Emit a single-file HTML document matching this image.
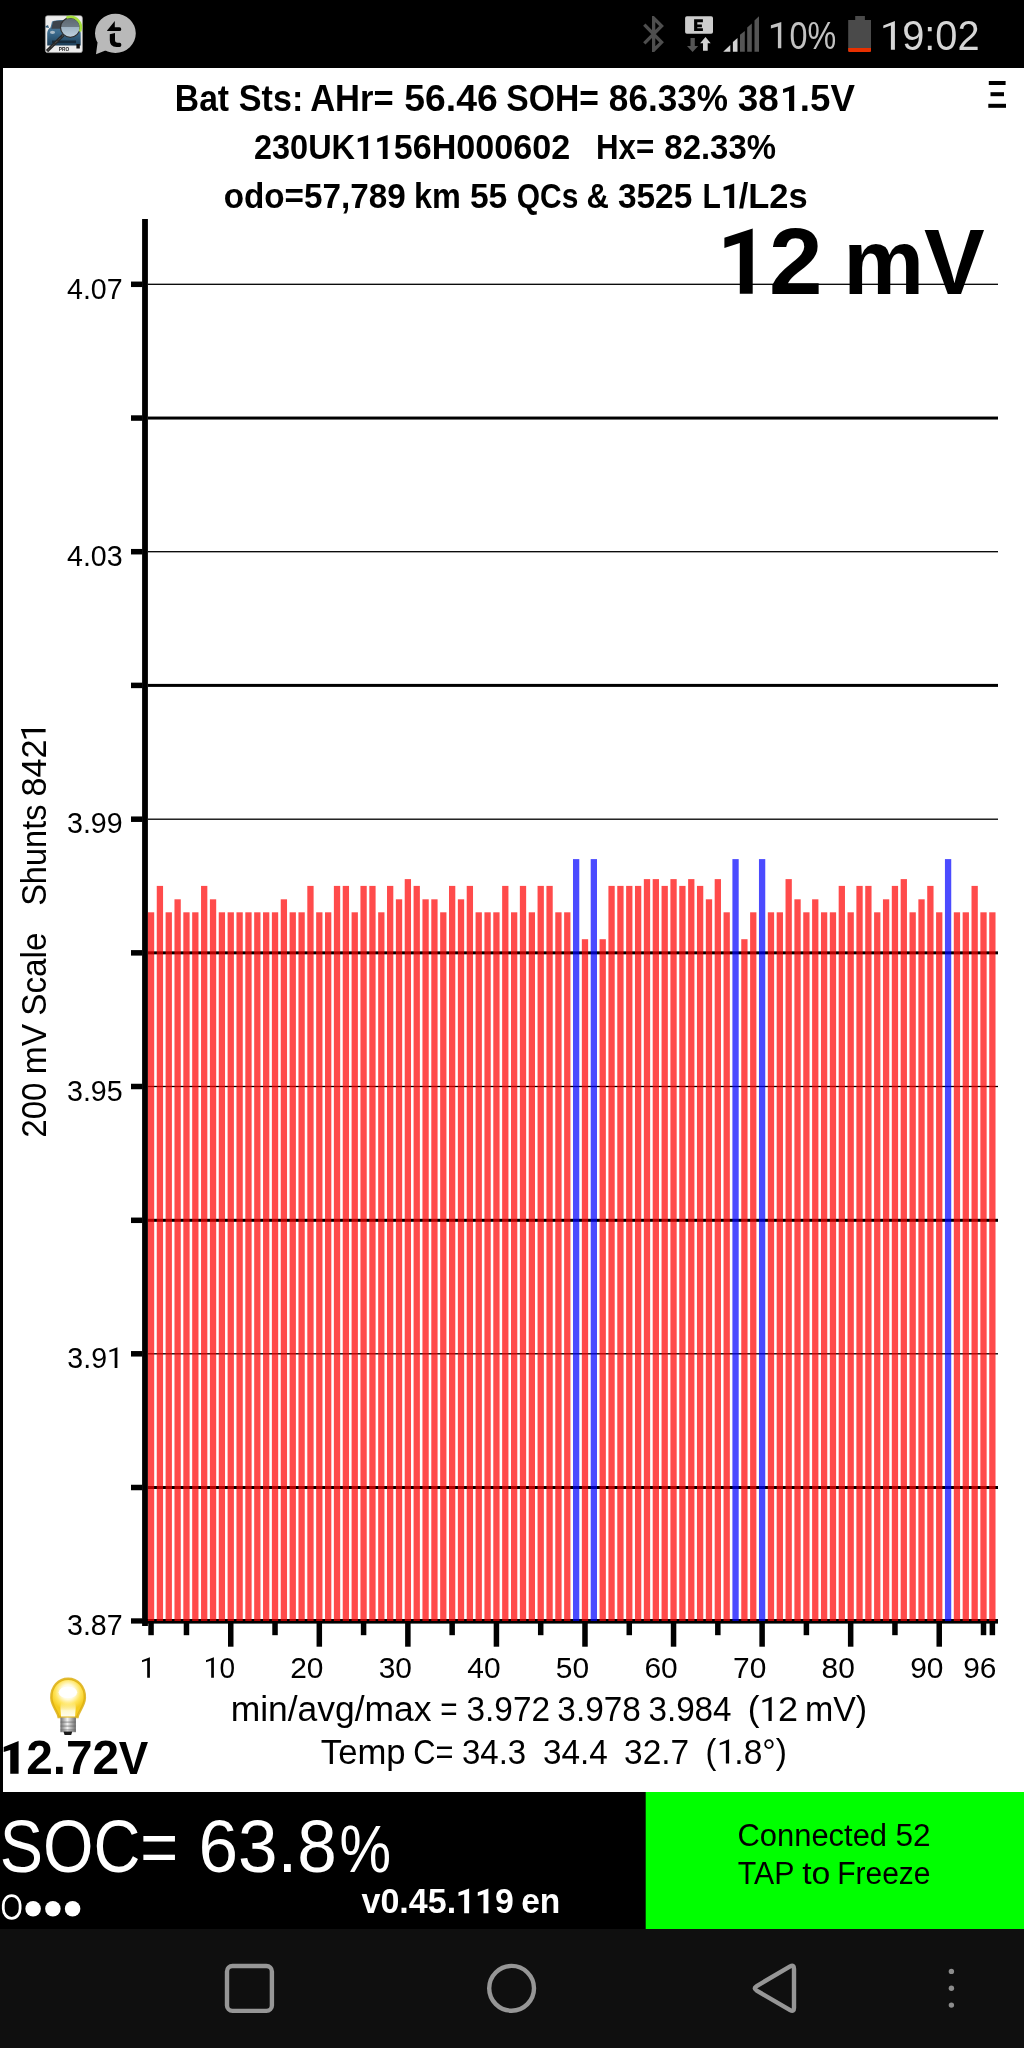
<!DOCTYPE html>
<html><head><meta charset="utf-8"><style>
html,body{margin:0;padding:0;background:#fff;}
body{width:1024px;height:2048px;overflow:hidden;}
svg{display:block;font-family:"Liberation Sans", sans-serif;will-change:transform;}
</style></head><body>
<svg width="1024" height="2048" viewBox="0 0 1024 2048">
<rect x="0" y="0" width="1024" height="68" fill="#000"/>
<rect x="0" y="68" width="3" height="1724" fill="#000"/>
<rect x="3" y="68" width="1021" height="1724" fill="#fff"/>
<rect x="0" y="1792" width="646" height="137" fill="#000"/>
<rect x="645.7" y="1792" width="378.3" height="137" fill="#00ff00"/>
<rect x="0" y="1929" width="1024" height="119" fill="#0f0f0f"/>
<rect x="148" y="283.65" width="850" height="1.3" fill="#000"/>
<rect x="131" y="281.55" width="11.5" height="5.5" fill="#000"/>
<rect x="148" y="416.55" width="850" height="3" fill="#000"/>
<rect x="131" y="415.30" width="11.5" height="5.5" fill="#000"/>
<rect x="148" y="551.05" width="850" height="1.3" fill="#000"/>
<rect x="131" y="548.95" width="11.5" height="5.5" fill="#000"/>
<rect x="148" y="683.90" width="850" height="3" fill="#000"/>
<rect x="131" y="682.65" width="11.5" height="5.5" fill="#000"/>
<rect x="148" y="818.55" width="850" height="1.3" fill="#000"/>
<rect x="131" y="816.45" width="11.5" height="5.5" fill="#000"/>
<rect x="148" y="951.35" width="850" height="3" fill="#000"/>
<rect x="131" y="950.10" width="11.5" height="5.5" fill="#000"/>
<rect x="148" y="1085.85" width="850" height="1.3" fill="#000"/>
<rect x="131" y="1083.75" width="11.5" height="5.5" fill="#000"/>
<rect x="148" y="1218.80" width="850" height="3" fill="#000"/>
<rect x="131" y="1217.55" width="11.5" height="5.5" fill="#000"/>
<rect x="148" y="1353.15" width="850" height="1.3" fill="#000"/>
<rect x="131" y="1351.05" width="11.5" height="5.5" fill="#000"/>
<rect x="148" y="1486.00" width="850" height="3" fill="#000"/>
<rect x="131" y="1484.75" width="11.5" height="5.5" fill="#000"/>
<rect x="131" y="1618.3" width="11.5" height="5.3" fill="#000"/>
<rect x="142.1" y="219" width="5.8" height="1407" fill="#000"/>
<rect x="142" y="1619" width="856" height="4.6" fill="#000"/>
<rect x="148.30" y="1623" width="5.5" height="12.2" fill="#000"/>
<rect x="183.72" y="1623" width="5.5" height="12.2" fill="#000"/>
<rect x="228.00" y="1623" width="5.5" height="23.7" fill="#000"/>
<rect x="272.28" y="1623" width="5.5" height="12.2" fill="#000"/>
<rect x="316.56" y="1623" width="5.5" height="23.7" fill="#000"/>
<rect x="360.84" y="1623" width="5.5" height="12.2" fill="#000"/>
<rect x="405.12" y="1623" width="5.5" height="23.7" fill="#000"/>
<rect x="449.40" y="1623" width="5.5" height="12.2" fill="#000"/>
<rect x="493.68" y="1623" width="5.5" height="23.7" fill="#000"/>
<rect x="537.96" y="1623" width="5.5" height="12.2" fill="#000"/>
<rect x="582.24" y="1623" width="5.5" height="23.7" fill="#000"/>
<rect x="626.52" y="1623" width="5.5" height="12.2" fill="#000"/>
<rect x="670.80" y="1623" width="5.5" height="23.7" fill="#000"/>
<rect x="715.08" y="1623" width="5.5" height="12.2" fill="#000"/>
<rect x="759.36" y="1623" width="5.5" height="23.7" fill="#000"/>
<rect x="803.64" y="1623" width="5.5" height="12.2" fill="#000"/>
<rect x="847.92" y="1623" width="5.5" height="23.7" fill="#000"/>
<rect x="892.20" y="1623" width="5.5" height="12.2" fill="#000"/>
<rect x="936.48" y="1623" width="5.5" height="23.7" fill="#000"/>
<rect x="980.76" y="1623" width="5.5" height="12.2" fill="#000"/>
<rect x="989.62" y="1623" width="5.5" height="12.2" fill="#000"/>
<rect x="147.90" y="912.3" width="6.3" height="708.7" fill="#ff0000" fill-opacity="0.706"/>
<rect x="156.76" y="885.9" width="6.3" height="735.1" fill="#ff0000" fill-opacity="0.706"/>
<rect x="165.61" y="912.3" width="6.3" height="708.7" fill="#ff0000" fill-opacity="0.706"/>
<rect x="174.47" y="899.3" width="6.3" height="721.7" fill="#ff0000" fill-opacity="0.706"/>
<rect x="183.32" y="912.3" width="6.3" height="708.7" fill="#ff0000" fill-opacity="0.706"/>
<rect x="192.18" y="912.3" width="6.3" height="708.7" fill="#ff0000" fill-opacity="0.706"/>
<rect x="201.04" y="885.9" width="6.3" height="735.1" fill="#ff0000" fill-opacity="0.706"/>
<rect x="209.89" y="899.3" width="6.3" height="721.7" fill="#ff0000" fill-opacity="0.706"/>
<rect x="218.75" y="912.3" width="6.3" height="708.7" fill="#ff0000" fill-opacity="0.706"/>
<rect x="227.60" y="912.3" width="6.3" height="708.7" fill="#ff0000" fill-opacity="0.706"/>
<rect x="236.46" y="912.3" width="6.3" height="708.7" fill="#ff0000" fill-opacity="0.706"/>
<rect x="245.32" y="912.3" width="6.3" height="708.7" fill="#ff0000" fill-opacity="0.706"/>
<rect x="254.17" y="912.3" width="6.3" height="708.7" fill="#ff0000" fill-opacity="0.706"/>
<rect x="263.03" y="912.3" width="6.3" height="708.7" fill="#ff0000" fill-opacity="0.706"/>
<rect x="271.88" y="912.3" width="6.3" height="708.7" fill="#ff0000" fill-opacity="0.706"/>
<rect x="280.74" y="899.3" width="6.3" height="721.7" fill="#ff0000" fill-opacity="0.706"/>
<rect x="289.60" y="912.3" width="6.3" height="708.7" fill="#ff0000" fill-opacity="0.706"/>
<rect x="298.45" y="912.3" width="6.3" height="708.7" fill="#ff0000" fill-opacity="0.706"/>
<rect x="307.31" y="885.9" width="6.3" height="735.1" fill="#ff0000" fill-opacity="0.706"/>
<rect x="316.16" y="912.3" width="6.3" height="708.7" fill="#ff0000" fill-opacity="0.706"/>
<rect x="325.02" y="912.3" width="6.3" height="708.7" fill="#ff0000" fill-opacity="0.706"/>
<rect x="333.88" y="885.9" width="6.3" height="735.1" fill="#ff0000" fill-opacity="0.706"/>
<rect x="342.73" y="885.9" width="6.3" height="735.1" fill="#ff0000" fill-opacity="0.706"/>
<rect x="351.59" y="912.3" width="6.3" height="708.7" fill="#ff0000" fill-opacity="0.706"/>
<rect x="360.44" y="885.9" width="6.3" height="735.1" fill="#ff0000" fill-opacity="0.706"/>
<rect x="369.30" y="885.9" width="6.3" height="735.1" fill="#ff0000" fill-opacity="0.706"/>
<rect x="378.16" y="912.3" width="6.3" height="708.7" fill="#ff0000" fill-opacity="0.706"/>
<rect x="387.01" y="885.9" width="6.3" height="735.1" fill="#ff0000" fill-opacity="0.706"/>
<rect x="395.87" y="899.3" width="6.3" height="721.7" fill="#ff0000" fill-opacity="0.706"/>
<rect x="404.72" y="879.1" width="6.3" height="741.9" fill="#ff0000" fill-opacity="0.706"/>
<rect x="413.58" y="885.9" width="6.3" height="735.1" fill="#ff0000" fill-opacity="0.706"/>
<rect x="422.44" y="899.3" width="6.3" height="721.7" fill="#ff0000" fill-opacity="0.706"/>
<rect x="431.29" y="899.3" width="6.3" height="721.7" fill="#ff0000" fill-opacity="0.706"/>
<rect x="440.15" y="912.3" width="6.3" height="708.7" fill="#ff0000" fill-opacity="0.706"/>
<rect x="449.00" y="885.9" width="6.3" height="735.1" fill="#ff0000" fill-opacity="0.706"/>
<rect x="457.86" y="899.3" width="6.3" height="721.7" fill="#ff0000" fill-opacity="0.706"/>
<rect x="466.72" y="885.9" width="6.3" height="735.1" fill="#ff0000" fill-opacity="0.706"/>
<rect x="475.57" y="912.3" width="6.3" height="708.7" fill="#ff0000" fill-opacity="0.706"/>
<rect x="484.43" y="912.3" width="6.3" height="708.7" fill="#ff0000" fill-opacity="0.706"/>
<rect x="493.28" y="912.3" width="6.3" height="708.7" fill="#ff0000" fill-opacity="0.706"/>
<rect x="502.14" y="885.9" width="6.3" height="735.1" fill="#ff0000" fill-opacity="0.706"/>
<rect x="511.00" y="912.3" width="6.3" height="708.7" fill="#ff0000" fill-opacity="0.706"/>
<rect x="519.85" y="885.9" width="6.3" height="735.1" fill="#ff0000" fill-opacity="0.706"/>
<rect x="528.71" y="912.3" width="6.3" height="708.7" fill="#ff0000" fill-opacity="0.706"/>
<rect x="537.56" y="885.9" width="6.3" height="735.1" fill="#ff0000" fill-opacity="0.706"/>
<rect x="546.42" y="885.9" width="6.3" height="735.1" fill="#ff0000" fill-opacity="0.706"/>
<rect x="555.28" y="912.3" width="6.3" height="708.7" fill="#ff0000" fill-opacity="0.706"/>
<rect x="564.13" y="912.3" width="6.3" height="708.7" fill="#ff0000" fill-opacity="0.706"/>
<rect x="572.99" y="859.1" width="6.3" height="761.9" fill="#0000ff" fill-opacity="0.706"/>
<rect x="581.84" y="939.2" width="6.3" height="681.8" fill="#ff0000" fill-opacity="0.706"/>
<rect x="590.70" y="859.1" width="6.3" height="761.9" fill="#0000ff" fill-opacity="0.706"/>
<rect x="599.56" y="939.2" width="6.3" height="681.8" fill="#ff0000" fill-opacity="0.706"/>
<rect x="608.41" y="885.9" width="6.3" height="735.1" fill="#ff0000" fill-opacity="0.706"/>
<rect x="617.27" y="885.9" width="6.3" height="735.1" fill="#ff0000" fill-opacity="0.706"/>
<rect x="626.12" y="885.9" width="6.3" height="735.1" fill="#ff0000" fill-opacity="0.706"/>
<rect x="634.98" y="885.9" width="6.3" height="735.1" fill="#ff0000" fill-opacity="0.706"/>
<rect x="643.84" y="879.1" width="6.3" height="741.9" fill="#ff0000" fill-opacity="0.706"/>
<rect x="652.69" y="879.1" width="6.3" height="741.9" fill="#ff0000" fill-opacity="0.706"/>
<rect x="661.55" y="885.9" width="6.3" height="735.1" fill="#ff0000" fill-opacity="0.706"/>
<rect x="670.40" y="879.1" width="6.3" height="741.9" fill="#ff0000" fill-opacity="0.706"/>
<rect x="679.26" y="885.9" width="6.3" height="735.1" fill="#ff0000" fill-opacity="0.706"/>
<rect x="688.12" y="879.1" width="6.3" height="741.9" fill="#ff0000" fill-opacity="0.706"/>
<rect x="696.97" y="885.9" width="6.3" height="735.1" fill="#ff0000" fill-opacity="0.706"/>
<rect x="705.83" y="899.3" width="6.3" height="721.7" fill="#ff0000" fill-opacity="0.706"/>
<rect x="714.68" y="879.1" width="6.3" height="741.9" fill="#ff0000" fill-opacity="0.706"/>
<rect x="723.54" y="912.3" width="6.3" height="708.7" fill="#ff0000" fill-opacity="0.706"/>
<rect x="732.40" y="859.1" width="6.3" height="761.9" fill="#0000ff" fill-opacity="0.706"/>
<rect x="741.25" y="939.2" width="6.3" height="681.8" fill="#ff0000" fill-opacity="0.706"/>
<rect x="750.11" y="912.3" width="6.3" height="708.7" fill="#ff0000" fill-opacity="0.706"/>
<rect x="758.96" y="859.1" width="6.3" height="761.9" fill="#0000ff" fill-opacity="0.706"/>
<rect x="767.82" y="912.3" width="6.3" height="708.7" fill="#ff0000" fill-opacity="0.706"/>
<rect x="776.68" y="912.3" width="6.3" height="708.7" fill="#ff0000" fill-opacity="0.706"/>
<rect x="785.53" y="879.1" width="6.3" height="741.9" fill="#ff0000" fill-opacity="0.706"/>
<rect x="794.39" y="899.3" width="6.3" height="721.7" fill="#ff0000" fill-opacity="0.706"/>
<rect x="803.24" y="912.3" width="6.3" height="708.7" fill="#ff0000" fill-opacity="0.706"/>
<rect x="812.10" y="899.3" width="6.3" height="721.7" fill="#ff0000" fill-opacity="0.706"/>
<rect x="820.96" y="912.3" width="6.3" height="708.7" fill="#ff0000" fill-opacity="0.706"/>
<rect x="829.81" y="912.3" width="6.3" height="708.7" fill="#ff0000" fill-opacity="0.706"/>
<rect x="838.67" y="885.9" width="6.3" height="735.1" fill="#ff0000" fill-opacity="0.706"/>
<rect x="847.52" y="912.3" width="6.3" height="708.7" fill="#ff0000" fill-opacity="0.706"/>
<rect x="856.38" y="885.9" width="6.3" height="735.1" fill="#ff0000" fill-opacity="0.706"/>
<rect x="865.24" y="885.9" width="6.3" height="735.1" fill="#ff0000" fill-opacity="0.706"/>
<rect x="874.09" y="912.3" width="6.3" height="708.7" fill="#ff0000" fill-opacity="0.706"/>
<rect x="882.95" y="899.3" width="6.3" height="721.7" fill="#ff0000" fill-opacity="0.706"/>
<rect x="891.80" y="885.9" width="6.3" height="735.1" fill="#ff0000" fill-opacity="0.706"/>
<rect x="900.66" y="879.1" width="6.3" height="741.9" fill="#ff0000" fill-opacity="0.706"/>
<rect x="909.52" y="912.3" width="6.3" height="708.7" fill="#ff0000" fill-opacity="0.706"/>
<rect x="918.37" y="899.3" width="6.3" height="721.7" fill="#ff0000" fill-opacity="0.706"/>
<rect x="927.23" y="885.9" width="6.3" height="735.1" fill="#ff0000" fill-opacity="0.706"/>
<rect x="936.08" y="912.3" width="6.3" height="708.7" fill="#ff0000" fill-opacity="0.706"/>
<rect x="944.94" y="859.1" width="6.3" height="761.9" fill="#0000ff" fill-opacity="0.706"/>
<rect x="953.80" y="912.3" width="6.3" height="708.7" fill="#ff0000" fill-opacity="0.706"/>
<rect x="962.65" y="912.3" width="6.3" height="708.7" fill="#ff0000" fill-opacity="0.706"/>
<rect x="971.51" y="885.9" width="6.3" height="735.1" fill="#ff0000" fill-opacity="0.706"/>
<rect x="980.36" y="912.3" width="6.3" height="708.7" fill="#ff0000" fill-opacity="0.706"/>
<rect x="989.22" y="912.3" width="6.3" height="708.7" fill="#ff0000" fill-opacity="0.706"/>
<text x="67.03" y="298.8" font-size="30.2" fill="#000" textLength="55.64" lengthAdjust="spacingAndGlyphs" xml:space="preserve">4.07</text>
<text x="67.03" y="566.1" font-size="30.2" fill="#000" textLength="55.64" lengthAdjust="spacingAndGlyphs" xml:space="preserve">4.03</text>
<text x="67.03" y="833.4" font-size="30.2" fill="#000" textLength="55.64" lengthAdjust="spacingAndGlyphs" xml:space="preserve">3.99</text>
<text x="67.03" y="1100.7" font-size="30.2" fill="#000" textLength="55.64" lengthAdjust="spacingAndGlyphs" xml:space="preserve">3.95</text>
<text x="67.36" y="1367.9" font-size="30.2" fill="#000" textLength="39.68" lengthAdjust="spacingAndGlyphs" xml:space="preserve">3.9</text>
<path d="M117.40 1347.20 L109.42 1350.30 L109.42 1352.29 L114.65 1350.42 L114.65 1367.90 L117.40 1367.90 Z" fill="#000"/>
<text x="67.03" y="1635.3" font-size="30.2" fill="#000" textLength="55.64" lengthAdjust="spacingAndGlyphs" xml:space="preserve">3.87</text>
<path d="M149.90 1657.30 L142.00 1660.37 L142.00 1662.34 L147.18 1660.49 L147.18 1677.80 L149.90 1677.80 Z" fill="#000"/>
<path d="M213.90 1657.30 L206.00 1660.37 L206.00 1662.34 L211.18 1660.49 L211.18 1677.80 L213.90 1677.80 Z" fill="#000"/>
<text x="219.42" y="1677.8" font-size="29.9" fill="#000" textLength="15.59" lengthAdjust="spacingAndGlyphs" xml:space="preserve">0</text>
<text x="323.5" y="1677.8" font-size="29.9" text-anchor="end" fill="#000" xml:space="preserve">20</text>
<text x="412.0" y="1677.8" font-size="29.9" text-anchor="end" fill="#000" xml:space="preserve">30</text>
<text x="500.6" y="1677.8" font-size="29.9" text-anchor="end" fill="#000" xml:space="preserve">40</text>
<text x="589.1" y="1677.8" font-size="29.9" text-anchor="end" fill="#000" xml:space="preserve">50</text>
<text x="677.7" y="1677.8" font-size="29.9" text-anchor="end" fill="#000" xml:space="preserve">60</text>
<text x="766.3" y="1677.8" font-size="29.9" text-anchor="end" fill="#000" xml:space="preserve">70</text>
<text x="854.8" y="1677.8" font-size="29.9" text-anchor="end" fill="#000" xml:space="preserve">80</text>
<text x="943.4" y="1677.8" font-size="29.9" text-anchor="end" fill="#000" xml:space="preserve">90</text>
<text x="996.5" y="1677.8" font-size="29.9" text-anchor="end" fill="#000" xml:space="preserve">96</text>
<g transform="translate(-54.4,1136.4) rotate(-90)"><text x="-1.34" y="100" font-size="35.5" fill="#000" textLength="55.23" lengthAdjust="spacingAndGlyphs" xml:space="preserve">200</text>
<text x="62.06" y="100" font-size="35.5" fill="#000" textLength="50.45" lengthAdjust="spacingAndGlyphs" xml:space="preserve">mV</text>
<text x="120.64" y="100" font-size="35.5" fill="#000" textLength="83.28" lengthAdjust="spacingAndGlyphs" xml:space="preserve">Scale</text>
<text x="230.54" y="100" font-size="35.5" fill="#000" textLength="101.48" lengthAdjust="spacingAndGlyphs" xml:space="preserve">Shunts</text>
<text x="339.87" y="100" font-size="35.5" fill="#000" textLength="56.92" lengthAdjust="spacingAndGlyphs" xml:space="preserve">842</text>
<path d="M407.50 75.20 L397.94 78.91 L397.94 81.30 L404.21 79.05 L404.21 100.00 L407.50 100.00 Z" fill="#000"/></g>
<text x="174.84" y="111" font-size="36.5" font-weight="bold" fill="#000" textLength="54.26" lengthAdjust="spacingAndGlyphs" xml:space="preserve">Bat</text>
<text x="238.87" y="111" font-size="36.5" font-weight="bold" fill="#000" textLength="64.45" lengthAdjust="spacingAndGlyphs" xml:space="preserve">Sts:</text>
<text x="310.15" y="111" font-size="36.5" font-weight="bold" fill="#000" textLength="83.52" lengthAdjust="spacingAndGlyphs" xml:space="preserve">AHr=</text>
<text x="404.32" y="111" font-size="36.5" font-weight="bold" fill="#000" textLength="93.35" lengthAdjust="spacingAndGlyphs" xml:space="preserve">56.46</text>
<text x="506.37" y="111" font-size="36.5" font-weight="bold" fill="#000" textLength="92.61" lengthAdjust="spacingAndGlyphs" xml:space="preserve">SOH=</text>
<text x="608.87" y="111" font-size="36.5" font-weight="bold" fill="#000" textLength="119.09" lengthAdjust="spacingAndGlyphs" xml:space="preserve">86.33%</text>
<text x="737.75" y="111" font-size="36.5" font-weight="bold" fill="#000" textLength="41.0" lengthAdjust="spacingAndGlyphs" xml:space="preserve">38</text>
<path d="M794.20 85.20 L783.05 88.92 L783.05 92.92 L789.02 90.99 L789.02 111.00 L794.20 111.00 Z" fill="#000"/>
<text x="799.82" y="111" font-size="36.5" font-weight="bold" fill="#000" textLength="55.04" lengthAdjust="spacingAndGlyphs" xml:space="preserve">.5V</text>
<text x="254.0" y="159" font-size="34.8" font-weight="bold" fill="#000" textLength="101.01" lengthAdjust="spacingAndGlyphs" xml:space="preserve">230UK</text>
<path d="M368.10 135.00 L357.73 138.46 L357.73 142.19 L363.29 140.39 L363.29 159.00 L368.10 159.00 Z" fill="#000"/>
<path d="M387.60 135.00 L377.23 138.46 L377.23 142.19 L382.79 140.39 L382.79 159.00 L387.60 159.00 Z" fill="#000"/>
<text x="393.8" y="159" font-size="34.8" font-weight="bold" fill="#000" textLength="176.36" lengthAdjust="spacingAndGlyphs" xml:space="preserve">56H000602</text>
<text x="595.96" y="159" font-size="34.8" font-weight="bold" fill="#000" textLength="58.27" lengthAdjust="spacingAndGlyphs" xml:space="preserve">Hx=</text>
<text x="664.35" y="159" font-size="34.8" font-weight="bold" fill="#000" textLength="111.62" lengthAdjust="spacingAndGlyphs" xml:space="preserve">82.33%</text>
<text x="223.67" y="208" font-size="34.8" font-weight="bold" fill="#000" textLength="182.16" lengthAdjust="spacingAndGlyphs" xml:space="preserve">odo=57,789</text>
<text x="413.9" y="208" font-size="34.8" font-weight="bold" fill="#000" textLength="46.85" lengthAdjust="spacingAndGlyphs" xml:space="preserve">km</text>
<text x="469.89" y="208" font-size="34.8" font-weight="bold" fill="#000" textLength="37.45" lengthAdjust="spacingAndGlyphs" xml:space="preserve">55</text>
<text x="516.72" y="208" font-size="34.8" font-weight="bold" fill="#000" textLength="61.57" lengthAdjust="spacingAndGlyphs" xml:space="preserve">QCs</text>
<text x="586.44" y="208" font-size="34.8" font-weight="bold" fill="#000" textLength="22.42" lengthAdjust="spacingAndGlyphs" xml:space="preserve">&amp;</text>
<text x="617.9" y="208" font-size="34.8" font-weight="bold" fill="#000" textLength="74.45" lengthAdjust="spacingAndGlyphs" xml:space="preserve">3525</text>
<text x="702.56" y="208" font-size="34.8" font-weight="bold" fill="#000" textLength="18.37" lengthAdjust="spacingAndGlyphs" xml:space="preserve">L</text>
<path d="M734.20 183.40 L723.57 186.94 L723.57 190.77 L729.27 188.93 L729.27 208.00 L734.20 208.00 Z" fill="#000"/>
<text x="738.72" y="208" font-size="34.8" font-weight="bold" fill="#000" textLength="68.98" lengthAdjust="spacingAndGlyphs" xml:space="preserve">/L2s</text>
<rect x="988.8" y="81" width="16.8" height="4" fill="#000"/>
<rect x="990.5" y="92.2" width="13.5" height="4" fill="#000"/>
<rect x="988.3" y="103.8" width="17.7" height="4" fill="#000"/>
<text x="769.12" y="293.5" font-size="95" font-weight="bold" fill="#000" textLength="53.51" lengthAdjust="spacingAndGlyphs" xml:space="preserve">2</text>
<text x="843.18" y="293.5" font-size="92.5" font-weight="bold" fill="#000" textLength="141.55" lengthAdjust="spacingAndGlyphs" xml:space="preserve">mV</text>
<path d="M752.7 228.4 L724.4 237.8 L724.4 248 L739.8 243.1 L739.8 293.7 L752.7 293.7 Z" fill="#000"/>
<text x="230.71" y="1720.9" font-size="35.5" fill="#000" textLength="200.79" lengthAdjust="spacingAndGlyphs" xml:space="preserve">min/avg/max</text>
<text x="440.24" y="1720.9" font-size="35.5" fill="#000" textLength="17.34" lengthAdjust="spacingAndGlyphs" xml:space="preserve">=</text>
<text x="466.47" y="1720.9" font-size="35.5" fill="#000" textLength="83.58" lengthAdjust="spacingAndGlyphs" xml:space="preserve">3.972</text>
<text x="557.33" y="1720.9" font-size="35.5" fill="#000" textLength="83.48" lengthAdjust="spacingAndGlyphs" xml:space="preserve">3.978</text>
<text x="648.45" y="1720.9" font-size="35.5" fill="#000" textLength="83.09" lengthAdjust="spacingAndGlyphs" xml:space="preserve">3.984</text>
<text x="747.79" y="1720.9" font-size="35.5" fill="#000" textLength="11.78" lengthAdjust="spacingAndGlyphs" xml:space="preserve">(</text>
<path d="M771.70 1696.70 L762.37 1700.32 L762.37 1702.65 L768.49 1700.46 L768.49 1720.90 L771.70 1720.90 Z" fill="#000"/>
<text x="777.91" y="1720.9" font-size="35.5" fill="#000" textLength="20.04" lengthAdjust="spacingAndGlyphs" xml:space="preserve">2</text>
<text x="804.95" y="1720.9" font-size="35.5" fill="#000" textLength="62.2" lengthAdjust="spacingAndGlyphs" xml:space="preserve">mV)</text>
<text x="320.86" y="1763.6" font-size="35.3" fill="#000" textLength="84.76" lengthAdjust="spacingAndGlyphs" xml:space="preserve">Temp</text>
<text x="413.22" y="1763.6" font-size="35.3" fill="#000" textLength="40.19" lengthAdjust="spacingAndGlyphs" xml:space="preserve">C=</text>
<text x="461.96" y="1763.6" font-size="35.3" fill="#000" textLength="64.27" lengthAdjust="spacingAndGlyphs" xml:space="preserve">34.3</text>
<text x="542.98" y="1763.6" font-size="35.3" fill="#000" textLength="64.8" lengthAdjust="spacingAndGlyphs" xml:space="preserve">34.4</text>
<text x="624.12" y="1763.6" font-size="35.3" fill="#000" textLength="65.11" lengthAdjust="spacingAndGlyphs" xml:space="preserve">32.7</text>
<text x="705.38" y="1763.6" font-size="35.3" fill="#000" textLength="10.87" lengthAdjust="spacingAndGlyphs" xml:space="preserve">(</text>
<path d="M729.10 1739.30 L719.73 1742.94 L719.73 1745.27 L725.87 1743.08 L725.87 1763.60 L729.10 1763.60 Z" fill="#000"/>
<text x="734.33" y="1763.6" font-size="35.3" fill="#000" textLength="52.57" lengthAdjust="spacingAndGlyphs" xml:space="preserve">.8°)</text>
<text x="26.2" y="1774.3" font-size="47.5" font-weight="bold" fill="#000" textLength="92.95" lengthAdjust="spacingAndGlyphs" xml:space="preserve">2.72</text>
<text x="118.83" y="1774.3" font-size="45.8" font-weight="bold" fill="#000" textLength="29.49" lengthAdjust="spacingAndGlyphs" xml:space="preserve">V</text>
<path d="M18.6 1741.1 L3.7 1747 L3.7 1752.1 L10.25 1749.9 L10.25 1773.8 L18.6 1773.8 Z" fill="#000"/>
<g>
<defs>
<radialGradient id="bulb" cx="68" cy="1692" r="18" gradientUnits="userSpaceOnUse">
<stop offset="0" stop-color="#ffffff"/><stop offset="0.4" stop-color="#fffbe0"/><stop offset="0.7" stop-color="#ffe45a"/><stop offset="1" stop-color="#f5cc20"/></radialGradient>
<linearGradient id="bulbLow" x1="0" y1="0" x2="0" y2="1"><stop offset="0" stop-color="#fff6b0" stop-opacity="0"/><stop offset="0.6" stop-color="#fffbd8" stop-opacity="0.95"/><stop offset="1" stop-color="#fffef0" stop-opacity="1"/></linearGradient>
<linearGradient id="base" x1="0" x2="1"><stop offset="0" stop-color="#707070"/><stop offset="0.45" stop-color="#f2f2f2"/><stop offset="1" stop-color="#6a6a6a"/></linearGradient>
</defs>
<path d="M58.6 1717 C57.8 1711.5 51.6 1706 51.3 1698 C51 1686.5 58.5 1678.7 68.1 1678.7 C77.7 1678.7 85.2 1686.5 84.9 1698 C84.6 1706 78.4 1711.5 77.6 1717 Z" fill="url(#bulb)" stroke="#dcae10" stroke-width="2.4" stroke-opacity="0.85"/>
<path d="M61 1716.5 C61 1711 59.5 1706 61.5 1702 L74.7 1702 C76.7 1706 75.2 1711 75.2 1716.5 Z" fill="url(#bulbLow)"/>
<ellipse cx="67.9" cy="1692.3" rx="9.2" ry="5.9" fill="#ffffff"/>
<rect x="60.4" y="1717.6" width="15.5" height="14.6" fill="url(#base)"/>
<rect x="60.4" y="1721.5" width="15.5" height="1.2" fill="#666" opacity="0.55"/>
<rect x="60.4" y="1725.5" width="15.5" height="1.2" fill="#666" opacity="0.55"/>
<rect x="60.4" y="1729.3" width="15.5" height="1.2" fill="#666" opacity="0.55"/>
<path d="M63.5 1731.5 L72.3 1731.5 L71.2 1735 L64.6 1735 Z" fill="#1a1a1a"/>
</g>
<text x="-0.35" y="1872" font-size="74.5" fill="#fff" textLength="178.53" lengthAdjust="spacingAndGlyphs" xml:space="preserve">SOC=</text>
<text x="198.41" y="1872" font-size="74.5" fill="#fff" textLength="138.34" lengthAdjust="spacingAndGlyphs" xml:space="preserve">63.8</text>
<text x="339.59" y="1872" font-size="67" fill="#fff" textLength="51.56" lengthAdjust="spacingAndGlyphs" xml:space="preserve">%</text>
<rect x="3.3" y="1895.6" width="16.8" height="22.7" rx="8.4" ry="9.5" fill="none" stroke="#fff" stroke-width="2.8"/>
<circle cx="33.1" cy="1908.8" r="7.75" fill="#fff"/>
<circle cx="52.9" cy="1908.8" r="7.75" fill="#fff"/>
<circle cx="72.6" cy="1908.8" r="7.75" fill="#fff"/>
<text x="361.49" y="1913.2" font-size="35.5" font-weight="bold" fill="#fff" textLength="94.62" lengthAdjust="spacingAndGlyphs" xml:space="preserve">v0.45.</text>
<path d="M469.10 1888.60 L458.47 1892.14 L458.47 1895.97 L464.17 1894.13 L464.17 1913.20 L469.10 1913.20 Z" fill="#fff"/>
<path d="M488.40 1888.60 L477.77 1892.14 L477.77 1895.97 L483.47 1894.13 L483.47 1913.20 L488.40 1913.20 Z" fill="#fff"/>
<text x="495.0" y="1913.2" font-size="35.5" font-weight="bold" fill="#fff" textLength="18.79" lengthAdjust="spacingAndGlyphs" xml:space="preserve">9</text>
<text x="521.19" y="1913.2" font-size="35.5" font-weight="bold" fill="#fff" textLength="39.14" lengthAdjust="spacingAndGlyphs" xml:space="preserve">en</text>
<text x="737.47" y="1846.4" font-size="30.6" fill="#000" textLength="149.56" lengthAdjust="spacingAndGlyphs" xml:space="preserve">Connected</text>
<text x="895.41" y="1846.4" font-size="30.6" fill="#000" textLength="35.12" lengthAdjust="spacingAndGlyphs" xml:space="preserve">52</text>
<text x="737.77" y="1883.8" font-size="30.6" fill="#000" textLength="56.67" lengthAdjust="spacingAndGlyphs" xml:space="preserve">TAP</text>
<text x="802.19" y="1883.8" font-size="30.6" fill="#000" textLength="28.18" lengthAdjust="spacingAndGlyphs" xml:space="preserve">to</text>
<text x="837.24" y="1883.8" font-size="30.6" fill="#000" textLength="93.25" lengthAdjust="spacingAndGlyphs" xml:space="preserve">Freeze</text>
<rect x="227" y="1966" width="44.9" height="44.9" rx="5.5" fill="none" stroke="#969696" stroke-width="4.4"/>
<circle cx="511.6" cy="1988.3" r="22.4" fill="none" stroke="#969696" stroke-width="4.4"/>
<path d="M756.68 1986.03 L790.12 1966.47 Q794.00 1964.20 794.00 1968.70 L794.00 2007.90 Q794.00 2012.40 790.12 2010.13 L756.68 1990.57 Q752.80 1988.30 756.68 1986.03 Z" fill="none" stroke="#969696" stroke-width="4.4" stroke-linejoin="round"/>
<circle cx="951.4" cy="1971.4" r="2.7" fill="#8c8c8c"/>
<circle cx="951.4" cy="1988.2" r="2.7" fill="#8c8c8c"/>
<circle cx="951.4" cy="2005.1" r="2.7" fill="#8c8c8c"/>
<text x="789.44" y="48.7" font-size="39" fill="#c2c2c2" textLength="46.67" lengthAdjust="spacingAndGlyphs" xml:space="preserve">0%</text>
<path d="M781.3 21.9 L770.9 25.2 L770.9 28.5 L777.9 26.4 L777.9 48.2 L781.3 48.2 Z" fill="#c2c2c2"/>
<text x="902.2" y="50" font-size="42.5" fill="#d6d6d6" textLength="77.39" lengthAdjust="spacingAndGlyphs" xml:space="preserve">9:02</text>
<path d="M894.9 20.9 L883.3 25.4 L883.3 28.3 L890.9 25.6 L890.9 49.8 L894.9 49.8 Z" fill="#d6d6d6"/>
<rect x="855.2" y="16" width="9.7" height="5" fill="#4a4a4a"/>
<path d="M848.2 20 L871 20 L871 50.5 Q871 52 869.5 52 L849.7 52 Q848.2 52 848.2 50.5 Z" fill="#4a4a4a"/>
<path d="M848.2 47.9 L871 47.9 L871 50.5 Q871 52 869.5 52 L849.7 52 Q848.2 52 848.2 50.5 Z" fill="#e83000"/>
<path d="M723.2 51.7 L730.3 44.9 L730.3 51.7 Z" fill="#d2d2d2"/>
<path d="M732.9 51.7 L732.9 41.9 L737.5 37.9 L737.5 51.7 Z" fill="#d2d2d2"/>
<path d="M740 51.7 L740 34.8 L744.8 30.9 L744.8 51.7 Z" fill="#555"/>
<path d="M747.2 51.7 L747.2 27.6 L751.8 23.6 L751.8 51.7 Z" fill="#555"/>
<path d="M754.5 51.7 L754.5 20.5 L759 16.3 L759 51.7 Z" fill="#555"/>
<rect x="685.1" y="16.25" width="27.9" height="17.55" rx="1.8" fill="#cdcdcd"/>
<path d="M694.1 19.2 L702.9 19.2 L702.9 22.3 L697.3 22.3 L697.3 24.5 L701.9 24.5 L701.9 27.3 L697.3 27.3 L697.3 28.2 L702.9 28.2 L702.9 31.1 L694.1 31.1 Z" fill="#000"/>
<path d="M690.5 37.9 L694.8 37.9 L694.8 46.1 L698.2 46.1 L692.6 52 L687 46.1 L690.5 46.1 Z" fill="#555"/>
<path d="M705.5 37 L710.7 43.2 L707.7 43.2 L707.7 50.8 L703 50.8 L703 43.2 L700.1 43.2 Z" fill="#d2d2d2"/>
<defs><clipPath id="btc"><rect x="630" y="16" width="40" height="36"/></clipPath></defs><path clip-path="url(#btc)" d="M644.3 24.6 L661.6 42.3 L653.65 50.25 L653.65 18.05 L661.6 26 L644.3 43.3" fill="none" stroke="#4e4e4e" stroke-width="3.3" stroke-linejoin="miter" stroke-miterlimit="4"/>
<g>
<defs>
<linearGradient id="carb" x1="0" y1="0" x2="0" y2="1"><stop offset="0" stop-color="#5a88a8"/><stop offset="0.5" stop-color="#3b6a8c"/><stop offset="1" stop-color="#1d3f58"/></linearGradient>
<linearGradient id="lens" x1="0" y1="0" x2="0" y2="1"><stop offset="0" stop-color="#5c6770"/><stop offset="0.45" stop-color="#6d7a85"/><stop offset="0.5" stop-color="#9fb4c4"/><stop offset="1" stop-color="#c2d2de"/></linearGradient>
<clipPath id="lsclip"><rect x="45.4" y="15.7" width="37" height="36.9" rx="2.2"/></clipPath>
</defs>
<rect x="45.4" y="15.7" width="37" height="36.9" rx="2.2" fill="#ececec" stroke="#a0a0a0" stroke-width="0.7"/>
<g clip-path="url(#lsclip)">
<path d="M47.2 45.5 L47.2 33 C47.5 30 49 28.5 50.5 27.5 L52 21.5 C57 19.6 71 19.6 76 21.5 L77.5 27.5 C79 28.5 80.5 30 80.7 33 L80.7 45.5 Z" fill="url(#carb)"/>
<path d="M51.3 28.8 L53 21.5 C58 20.2 70 20.2 75 21.5 L76.7 28.8 Z" fill="#3c444c"/>
<ellipse cx="52.5" cy="32.3" rx="2.6" ry="1.6" fill="#a9bac6"/>
<rect x="52" y="40.5" width="24" height="2.6" fill="#152a3a"/>
<rect x="76.4" y="44" width="3.4" height="4.5" fill="#111"/>
<path d="M44 27 L48 25 L49 28 Z" fill="#345f7e"/>
</g>
<circle cx="70.3" cy="27.5" r="9.8" fill="url(#lens)"/>
<circle cx="70.3" cy="27.5" r="9.8" fill="none" stroke="#2e2e2e" stroke-width="1.2"/>
<path d="M67.5 17.3 A10.4 10.4 0 0 1 80.3 30.5" fill="none" stroke="#a6e03c" stroke-width="2.6" stroke-linecap="round"/>
<path d="M63.2 35.2 L47 51.2" stroke="#262626" stroke-width="3.2"/>
<path d="M63 35.4 L47.2 51" stroke="#9a9a9a" stroke-width="0.7" stroke-dasharray="0.8 1.2"/>
<text x="64" y="50.6" font-size="4.8" font-weight="bold" text-anchor="middle" fill="#222">PRO</text>
</g>
<path fill="#b9b9b9" d="M95 33.3 A20.4 19.6 0 1 1 135.8 33.3 A20.4 19.6 0 1 1 95 33.3 Z M97.6 42 L105.5 50.6 L96 54.2 Z"/>
<path d="M114.8 21 L114.8 27.3 L119.4 27.3 Q121.3 27.3 121.3 29.2 Q121.3 31.1 119.4 31.1 L107.6 31.1 Q106.6 31 107.3 30.2 Z" fill="#000"/>
<path d="M109.8 34.2 L115 33.1 L115 40 Q115 42.8 117.8 42.8 L119.6 42.8 Q121.3 42.8 121.3 44.6 L121.3 45.3 Q121.3 47 119.6 47 L116.5 47 Q109.8 47 109.8 40.3 Z" fill="#000"/>

</svg>
</body></html>
